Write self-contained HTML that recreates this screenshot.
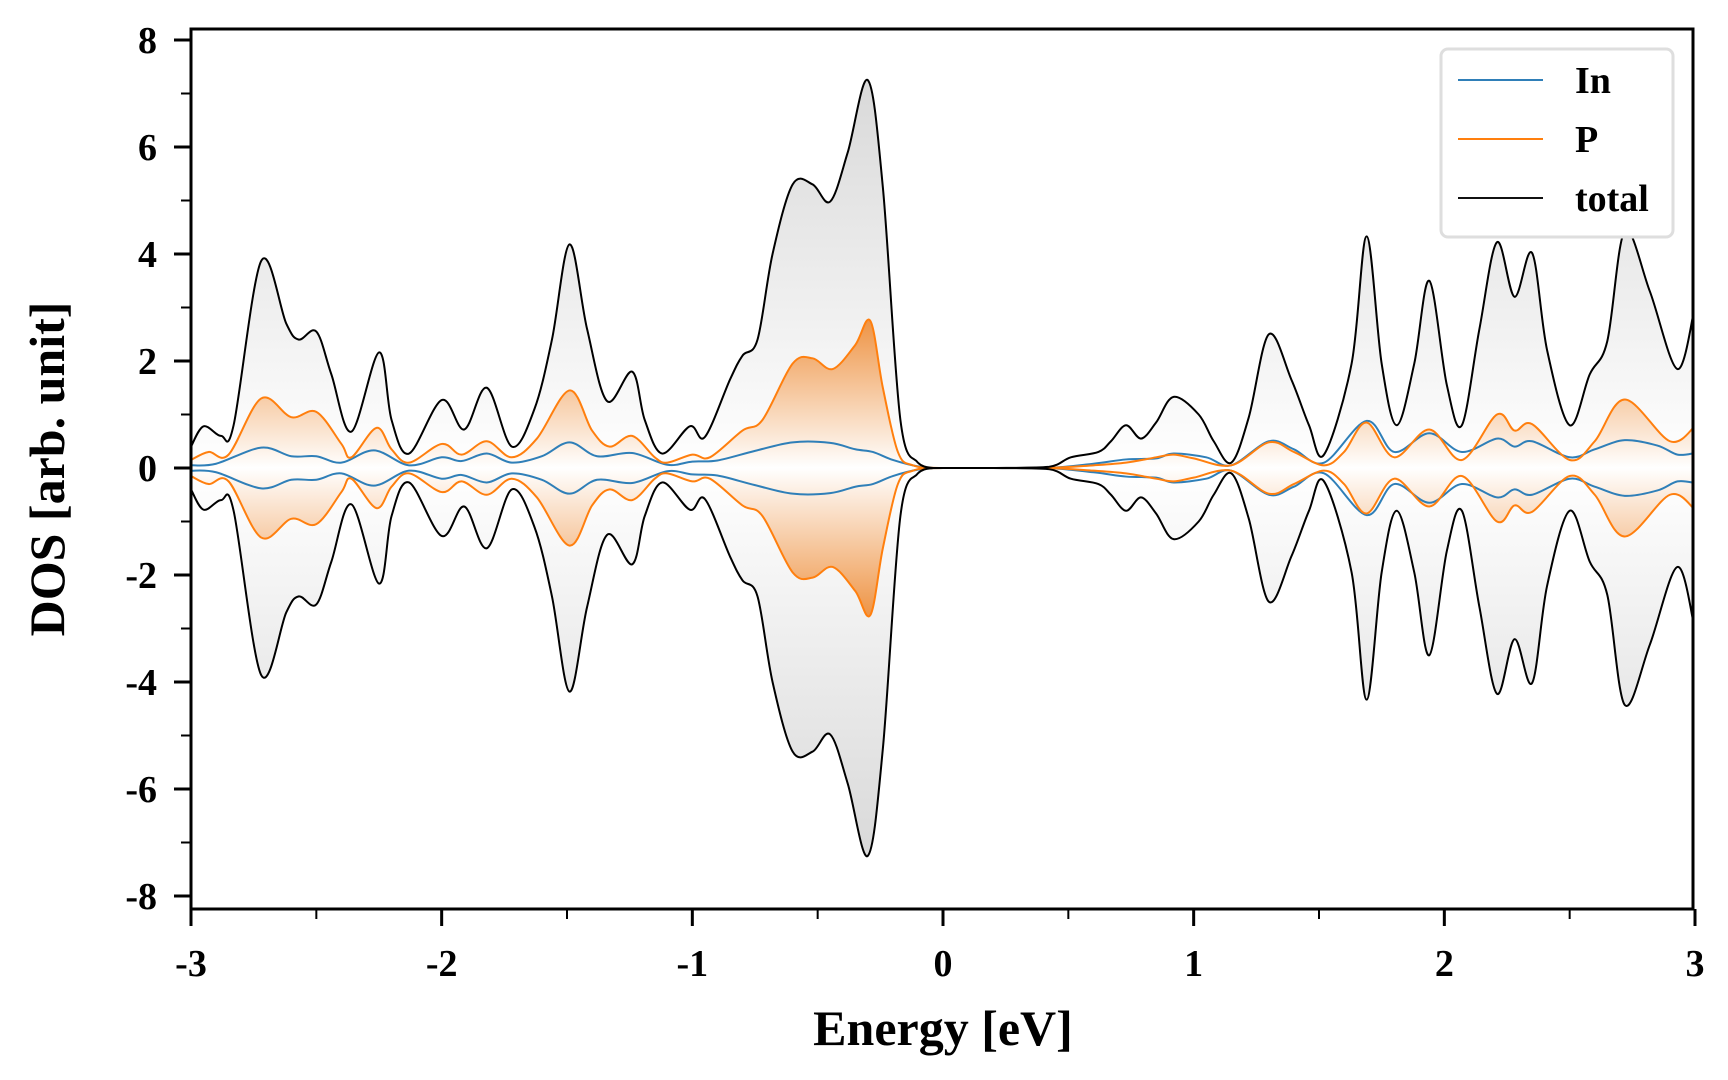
<!DOCTYPE html>
<html><head><meta charset="utf-8">
<style>
html,body{margin:0;padding:0;background:#fff;}
svg{display:block;font-family:"Liberation Serif",serif;font-weight:bold;}
</style></head>
<body>
<svg id="chart" width="1728" height="1080" viewBox="0 0 1728 1080" xmlns="http://www.w3.org/2000/svg">
<defs>
<linearGradient id="gGray" gradientUnits="userSpaceOnUse" x1="0" y1="80" x2="0" y2="468">
<stop offset="0" stop-color="#d9d9d9"/><stop offset="1" stop-color="#ffffff"/></linearGradient>
<linearGradient id="gGrayD" gradientUnits="userSpaceOnUse" x1="0" y1="856" x2="0" y2="468">
<stop offset="0" stop-color="#d9d9d9"/><stop offset="1" stop-color="#ffffff"/></linearGradient>
<linearGradient id="gOr" gradientUnits="userSpaceOnUse" x1="0" y1="320" x2="0" y2="468">
<stop offset="0" stop-color="#ee9445"/><stop offset="1" stop-color="#ffffff"/></linearGradient>
<linearGradient id="gOrD" gradientUnits="userSpaceOnUse" x1="0" y1="616" x2="0" y2="468">
<stop offset="0" stop-color="#ee9445"/><stop offset="1" stop-color="#ffffff"/></linearGradient>
<clipPath id="plotClip"><rect x="191" y="29" width="1502" height="880"/></clipPath>
</defs>
<g id="plot" clip-path="url(#plotClip)"></g>
<g id="axes"></g>
<text x="943" y="1045" font-size="50" text-anchor="middle">Energy [eV]</text>
<text x="0" y="0" font-size="50" text-anchor="middle" transform="translate(64,469) rotate(-90)">DOS [arb. unit]</text>
<g>
<rect x="1441" y="49" width="232" height="188" rx="7" fill="#fff" stroke="#dedede" stroke-width="3"/>
<line x1="1458" y1="80" x2="1543" y2="80" stroke="#2f7fb8" stroke-width="2"/>
<text x="1575" y="93" font-size="38">In</text>
<line x1="1458" y1="139" x2="1543" y2="139" stroke="#ff7f0e" stroke-width="2"/>
<text x="1575" y="152" font-size="38">P</text>
<line x1="1458" y1="198" x2="1543" y2="198" stroke="#111" stroke-width="2"/>
<text x="1575" y="211" font-size="38">total</text>
</g>
</svg>
<script>
const totalE=[-3,-2.95,-2.88,-2.83,-2.72,-2.62,-2.57,-2.5,-2.44,-2.36,-2.25,-2.2,-2.13,-2.0,-1.91,-1.82,-1.72,-1.63,-1.56,-1.49,-1.42,-1.34,-1.24,-1.19,-1.12,-1.01,-0.95,-0.85,-0.8,-0.74,-0.68,-0.6,-0.52,-0.45,-0.38,-0.3,-0.24,-0.17,-0.1,-0.04,0,0.2,0.42,0.51,0.62,0.67,0.73,0.79,0.85,0.92,1.02,1.08,1.15,1.22,1.3,1.39,1.46,1.52,1.63,1.69,1.75,1.81,1.88,1.94,2.01,2.07,2.14,2.21,2.28,2.35,2.41,2.5,2.58,2.65,2.72,2.82,2.93,3.0];
const totalV=[0.4,0.78,0.6,0.8,3.87,2.7,2.4,2.55,1.75,0.68,2.16,0.9,0.27,1.27,0.72,1.5,0.4,1.1,2.4,4.18,2.6,1.25,1.8,0.9,0.27,0.78,0.58,1.65,2.1,2.4,4.0,5.3,5.3,4.98,5.9,7.25,5.25,0.9,0.1,0,0,0,0.02,0.2,0.3,0.5,0.8,0.55,0.85,1.33,1.0,0.5,0.1,0.95,2.5,1.65,0.8,0.25,1.95,4.33,1.95,0.8,1.95,3.5,1.55,0.8,2.6,4.22,3.2,4.02,2.2,0.8,1.75,2.37,4.43,3.3,1.85,3.03];
const pE=[-3,-2.93,-2.85,-2.72,-2.6,-2.5,-2.4,-2.36,-2.26,-2.2,-2.13,-2.0,-1.92,-1.82,-1.72,-1.62,-1.49,-1.4,-1.33,-1.24,-1.15,-1.1,-1.0,-0.93,-0.8,-0.72,-0.6,-0.52,-0.44,-0.35,-0.29,-0.24,-0.18,-0.12,0,0.4,0.6,0.73,0.85,0.92,1.0,1.15,1.3,1.4,1.52,1.6,1.69,1.8,1.94,2.07,2.21,2.28,2.35,2.5,2.6,2.72,2.9,3.0];
const pV=[0.15,0.3,0.25,1.3,0.95,1.05,0.45,0.2,0.75,0.35,0.1,0.45,0.25,0.5,0.2,0.55,1.45,0.7,0.4,0.6,0.2,0.1,0.25,0.2,0.7,0.9,1.95,2.05,1.85,2.3,2.75,1.5,0.3,0.05,0,0,0.05,0.1,0.2,0.25,0.18,0.05,0.48,0.3,0.05,0.3,0.85,0.2,0.72,0.15,1.0,0.7,0.82,0.15,0.5,1.28,0.5,0.78];
const inE=[-3,-2.9,-2.72,-2.6,-2.5,-2.4,-2.27,-2.13,-2.0,-1.92,-1.82,-1.72,-1.6,-1.49,-1.38,-1.24,-1.1,-1.0,-0.9,-0.75,-0.6,-0.45,-0.35,-0.28,-0.2,-0.1,0,0.4,0.6,0.73,0.85,0.92,1.05,1.15,1.3,1.4,1.52,1.69,1.8,1.94,2.07,2.21,2.28,2.35,2.5,2.6,2.72,2.85,2.93,3.0];
const inV=[0.05,0.08,0.38,0.22,0.22,0.1,0.33,0.05,0.2,0.13,0.27,0.1,0.22,0.48,0.22,0.28,0.06,0.12,0.14,0.32,0.48,0.47,0.35,0.3,0.15,0.03,0,0,0.08,0.16,0.18,0.27,0.2,0.05,0.5,0.35,0.1,0.88,0.3,0.65,0.3,0.55,0.4,0.5,0.2,0.35,0.52,0.42,0.25,0.28];
const xTicks=[-3,-2,-1,0,1,2,3];
const yTicks=[-8,-6,-4,-2,0,2,4,6,8];

const NS="http://www.w3.org/2000/svg";
const X0=191,X1=1695,Y0=468,YU=53.5;
function xs(e){return X0+(e+3)/6*(X1-X0);}
function ys(v){return Y0-v*YU;}
function mk(tag,attrs,parent){const el=document.createElementNS(NS,tag);for(const k in attrs)el.setAttribute(k,attrs[k]);parent.appendChild(el);return el;}
function curve(E,V,sign){
  const p=E.map((e,i)=>[xs(e),ys(sign*V[i])]);
  let d="M"+p[0][0].toFixed(2)+","+p[0][1].toFixed(2);
  for(let i=0;i<p.length-1;i++){
    const a=p[Math.max(i-1,0)],b=p[i],c=p[i+1],n=p[Math.min(i+2,p.length-1)];
    let c1x=b[0]+(c[0]-a[0])/6,c1y=b[1]+(c[1]-a[1])/6;
    let c2x=c[0]-(n[0]-b[0])/6,c2y=c[1]-(n[1]-b[1])/6;
    if(sign>0){c1y=Math.min(c1y,Y0);c2y=Math.min(c2y,Y0);}else{c1y=Math.max(c1y,Y0);c2y=Math.max(c2y,Y0);}
    d+=" C"+c1x.toFixed(2)+","+c1y.toFixed(2)+" "+c2x.toFixed(2)+","+c2y.toFixed(2)+" "+c[0].toFixed(2)+","+c[1].toFixed(2);
  }
  return d;
}
function area(E,V,sign){return curve(E,V,sign)+" L"+xs(E[E.length-1])+","+Y0+" L"+xs(E[0])+","+Y0+" Z";}
const plot=document.getElementById('plot');
let el;
el=mk('path',{d:area(totalE,totalV,1),fill:'url(#gGray)'},plot);


el=mk('path',{d:area(totalE,totalV,-1),fill:'url(#gGrayD)'},plot);


el=mk('path',{d:area(pE,pV,1),fill:'url(#gOr)'},plot);


el=mk('path',{d:area(pE,pV,-1),fill:'url(#gOrD)'},plot);


el=mk('path',{d:curve(inE,inV,1),fill:'none',stroke:'#2f7fb8','stroke-width':2},plot);


el=mk('path',{d:curve(inE,inV,-1),fill:'none',stroke:'#2f7fb8','stroke-width':2},plot);


el=mk('path',{d:curve(pE,pV,1),fill:'none',stroke:'#ff7f0e','stroke-width':2},plot);


el=mk('path',{d:curve(pE,pV,-1),fill:'none',stroke:'#ff7f0e','stroke-width':2},plot);


el=mk('path',{d:curve(totalE,totalV,1),fill:'none',stroke:'#000','stroke-width':2},plot);


el=mk('path',{d:curve(totalE,totalV,-1),fill:'none',stroke:'#000','stroke-width':2},plot);



const ax=document.getElementById('axes');
el=mk('rect',{x:191,y:29,width:1502,height:880,fill:'none',stroke:'#000','stroke-width':3},ax);


xTicks.forEach(t=>{
  const x=xs(t);
  el=mk('line',{x1:x,y1:909,x2:x,y2:926,stroke:'#000','stroke-width':3},ax);
  
  
  el=mk('text',{x:x,y:976,'font-size':38,'text-anchor':'middle'},ax);
  el.textContent=String(t);
  
  
  if(t<3){
    el=mk('line',{x1:xs(t+0.5),y1:909,x2:xs(t+0.5),y2:919,stroke:'#000','stroke-width':2},ax);
    
    
  }
});
yTicks.forEach(t=>{
  const y=ys(t);
  el=mk('line',{x1:174,y1:y,x2:191,y2:y,stroke:'#000','stroke-width':3},ax);
  
  
  el=mk('text',{x:157,y:y+13,'font-size':38,'text-anchor':'end'},ax);
  el.textContent=String(t);
  
  
  if(t<8){
    el=mk('line',{x1:181,y1:ys(t+1),x2:191,y2:ys(t+1),stroke:'#000','stroke-width':2},ax);
    
    
  }
});
</script>
</body></html>
